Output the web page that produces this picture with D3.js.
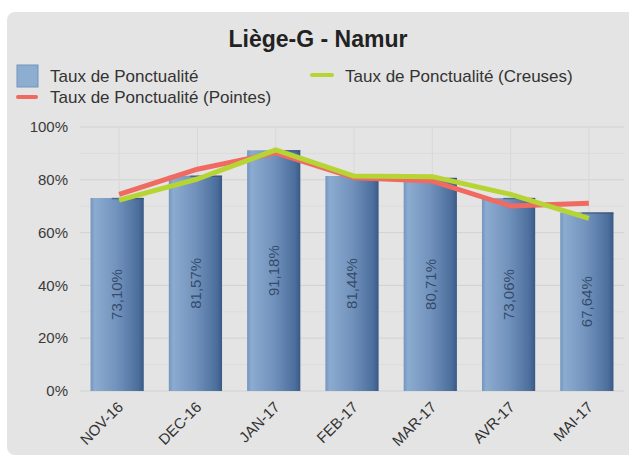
<!DOCTYPE html>
<html>
<head>
<meta charset="utf-8">
<script src="https://cdn.jsdelivr.net/npm/d3@7"></script>
<style>
  body { margin: 0; background: #fff; }
  text { font-family: "Liberation Sans", Arial, sans-serif; }
</style>
</head>
<body>
<svg id="chart" width="629" height="457"></svg>
<script>
const months = ["NOV-16", "DEC-16", "JAN-17", "FEB-17", "MAR-17", "AVR-17", "MAI-17"]
const ponctualite = [73.10, 81.57, 91.18, 81.44, 80.71, 73.06, 67.64]
const pointes = [74.5, 84.0, 90.2, 80.8, 79.5, 70.1, 71.1]
const creuses = [72.3, 80.3, 91.3, 81.4, 81.2, 74.5, 65.4]
const yTicks = [0, 20, 40, 60, 80, 100]
const yMinor = [10, 30, 50, 70, 90]

const svg = d3.select("#chart")
const width = 629, height = 457
const plot = {left: 78, right: 626, top: 127, bottom: 391}

const fr = d3.formatLocale({decimal: ",", thousands: ".", grouping: [3], currency: ["", "€"]})
const fmt = fr.format(".2f")

// panel
svg.append("rect").attr("x", 7).attr("y", 12).attr("width", 630).attr("height", 443)
  .attr("rx", 8).attr("fill", "#e4e4e4")

const defs = svg.append("defs")
const grad = defs.append("linearGradient").attr("id", "barGrad").attr("x1", "0%").attr("x2", "100%")
grad.append("stop").attr("offset", "0%").attr("stop-color", "#7595bf")
grad.append("stop").attr("offset", "8%").attr("stop-color", "#8cabd0")
grad.append("stop").attr("offset", "50%").attr("stop-color", "#7192bc")
grad.append("stop").attr("offset", "90%").attr("stop-color", "#4c6e9c")
grad.append("stop").attr("offset", "100%").attr("stop-color", "#3a5985")

const x = d3.scaleBand().domain(months).range([plot.left, plot.right]).paddingInner(0.32).paddingOuter(0.16)
const y = d3.scaleLinear().domain([0, 100]).range([plot.bottom, plot.top])

// grid
const grid = svg.append("g")
grid.selectAll(".minor").data(yMinor).enter().append("line")
  .attr("x1", plot.left + 2).attr("x2", plot.right - 2)
  .attr("y1", d => y(d)).attr("y2", d => y(d))
  .attr("stroke", "#dcdcdc").attr("stroke-width", 1)
grid.selectAll(".major").data(yTicks).enter().append("line")
  .attr("x1", plot.left + 2).attr("x2", plot.right - 2)
  .attr("y1", d => y(d)).attr("y2", d => y(d))
  .attr("stroke", "#d2d2d2").attr("stroke-width", 1)
grid.selectAll(".vert").data(months).enter().append("line")
  .attr("x1", d => x(d) + x.bandwidth() / 2 + 2).attr("x2", d => x(d) + x.bandwidth() / 2 + 2)
  .attr("y1", plot.top).attr("y2", plot.bottom)
  .attr("stroke", "#d8d8d8").attr("stroke-width", 1)

// y labels
svg.append("g").selectAll("text").data(yTicks).enter().append("text")
  .attr("x", 68).attr("y", d => y(d)).attr("dy", "0.35em")
  .attr("text-anchor", "end").attr("font-size", "15px").attr("fill", "#3a3a3a")
  .text(d => d + "%")

// bars
const bars = svg.append("g")
bars.selectAll("rect").data(ponctualite).enter().append("rect")
  .attr("x", (d, i) => x(months[i]))
  .attr("y", d => y(d))
  .attr("width", x.bandwidth())
  .attr("height", d => y(0) - y(d))
  .attr("fill", "url(#barGrad)")
bars.selectAll("line").data(ponctualite).enter().append("line")
  .attr("x1", (d, i) => x(months[i]) + x.bandwidth() * 0.4)
  .attr("x2", (d, i) => x(months[i]) + x.bandwidth())
  .attr("y1", d => y(d) + 0.5).attr("y2", d => y(d) + 0.5)
  .attr("stroke", "#34496a").attr("stroke-opacity", 0.6).attr("stroke-width", 1.5)

// bar labels
bars.selectAll("text").data(ponctualite).enter().append("text")
  .attr("transform", (d, i) => "translate(" + (x(months[i]) + x.bandwidth() / 2) + "," + ((y(d) + y(0)) / 2) + ") rotate(-90)")
  .attr("text-anchor", "middle").attr("dy", "0.35em")
  .attr("font-size", "15px").attr("fill", "#2a3d5a").attr("fill-opacity", 0.85)
  .text(d => fmt(d) + "%")

// x labels
svg.append("g").selectAll("text").data(months).enter().append("text")
  .attr("transform", d => "translate(" + (x(d) + x.bandwidth() / 2 + 7) + "," + (plot.bottom + 17) + ") rotate(-45)")
  .attr("text-anchor", "end").attr("font-size", "15px").attr("fill", "#333")
  .text(d => d)

// lines
const line = d3.line()
  .x((d, i) => x(months[i]) + x.bandwidth() / 2 + 2)
  .y(d => y(d))

svg.append("path").datum(pointes).attr("d", line)
  .attr("fill", "none").attr("stroke", "#f06a62").attr("stroke-width", 5)
  .attr("stroke-linejoin", "round")
svg.append("path").datum(creuses).attr("d", line)
  .attr("fill", "none").attr("stroke", "#b6d434").attr("stroke-width", 5)
  .attr("stroke-linejoin", "round")

// title
svg.append("text").attr("x", 318).attr("y", 47).attr("text-anchor", "middle")
  .attr("font-size", "23px").attr("font-weight", "bold").attr("fill", "#222")
  .text("Liège-G - Namur")

// legend
const legend = svg.append("g").attr("font-size", "17px").attr("fill", "#333")
legend.append("rect").attr("x", 17).attr("y", 65).attr("width", 21).attr("height", 22)
  .attr("fill", "#8dadd1").attr("stroke", "#7393bd").attr("stroke-width", 1)
legend.append("text").attr("x", 50).attr("y", 82).text("Taux de Ponctualité")
legend.append("line").attr("x1", 18).attr("x2", 36).attr("y1", 97).attr("y2", 97)
  .attr("stroke", "#f06a62").attr("stroke-width", 4).attr("stroke-linecap", "round")
legend.append("text").attr("x", 50).attr("y", 103).text("Taux de Ponctualité (Pointes)")
legend.append("line").attr("x1", 312).attr("x2", 332).attr("y1", 75).attr("y2", 75)
  .attr("stroke", "#b6d434").attr("stroke-width", 4).attr("stroke-linecap", "round")
legend.append("text").attr("x", 345).attr("y", 82).text("Taux de Ponctualité (Creuses)")
</script>
</body>
</html>
